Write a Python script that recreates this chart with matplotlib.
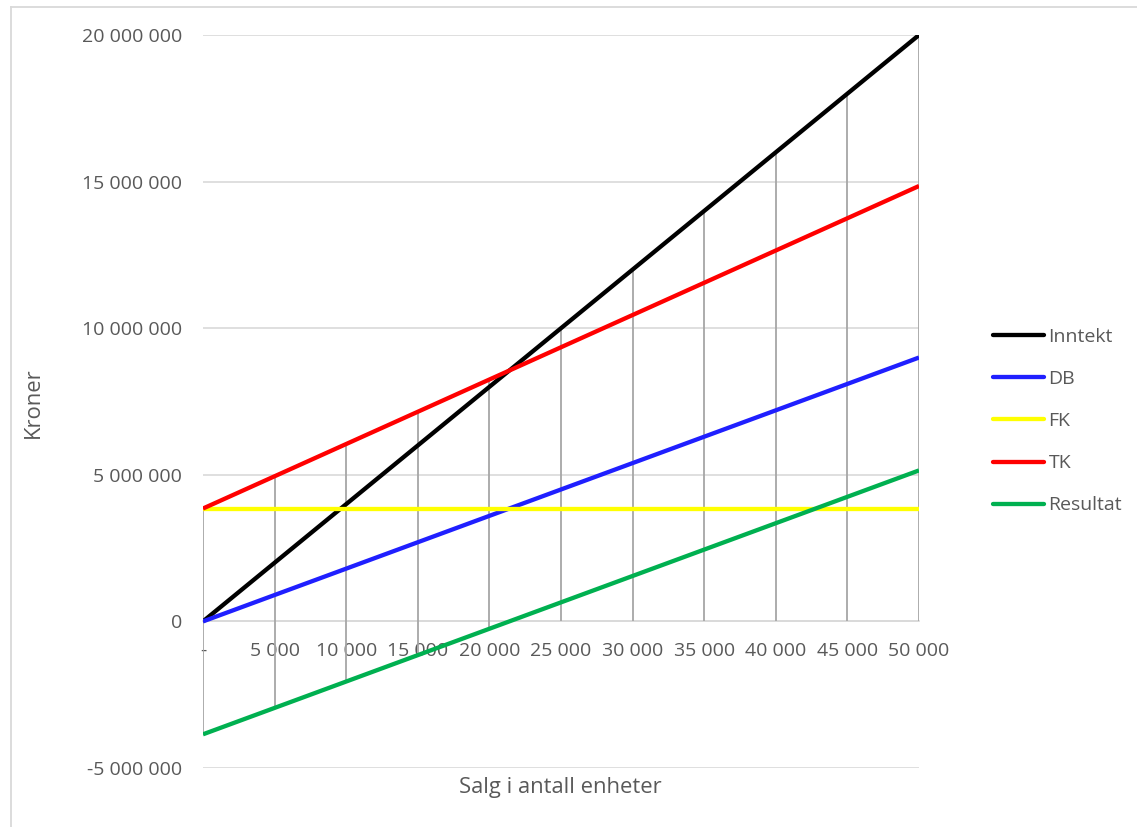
import matplotlib
matplotlib.use("Agg")
import matplotlib.pyplot as plt
from matplotlib.lines import Line2D
from matplotlib.ticker import FuncFormatter, MultipleLocator

# Break-even data (kroner) per sales volume
units = [0, 5000, 10000, 15000, 20000, 25000, 30000, 35000, 40000, 45000, 50000]
inntekt = [0, 2000000, 4000000, 6000000, 8000000, 10000000, 12000000,
           14000000, 16000000, 18000000, 20000000]
db = [0, 900000, 1800000, 2700000, 3600000, 4500000, 5400000,
      6300000, 7200000, 8100000, 9000000]
fk = [3850000] * 11
tk = [3850000, 4950000, 6050000, 7150000, 8250000, 9350000, 10450000,
      11550000, 12650000, 13750000, 14850000]
resultat = [-3850000, -2950000, -2050000, -1150000, -250000, 650000,
            1550000, 2450000, 3350000, 4250000, 5150000]

series = [("Inntekt", inntekt, "#000000"),
          ("DB", db, "#1f1fff"),
          ("FK", fk, "#ffff00"),
          ("TK", tk, "#ff0000"),
          ("Resultat", resultat, "#00b050")]

text_color = "#595959"
grid_color = "#d9d9d9"
fs = 14
title_fs = 15.8
plt.rcParams["font.family"] = ["Open Sans", "DejaVu Sans"]

fig = plt.figure(figsize=(11.37, 8.27), dpi=100)
ax = fig.add_axes([0.1785, 0.0713, 0.8083 - 0.1785, 0.9577 - 0.0713])

# Drop lines from each point to the category axis
for i, x in enumerate(units):
    vals = [s[1][i] for s in series]
    ax.vlines(x, min(0, min(vals)), max(0, max(vals)), color="#a6a6a6",
              lw=1.3, zorder=2)

for name, vals, col in series:
    ax.plot(units, vals, color=col, lw=3.1, solid_capstyle="butt", zorder=3,
            label=name)

ax.set_xlim(0, 50000)
ax.set_ylim(-5000000, 20000000)
ax.yaxis.set_major_locator(MultipleLocator(5000000))
ax.set_xticks(units)


def spaced(v, pos=None):
    v = int(round(v))
    if v == 0:
        return "0"
    s = f"{abs(v):,}".replace(",", " ")
    return ("-" if v < 0 else "") + s


ax.yaxis.set_major_formatter(FuncFormatter(spaced))
ax.set_xticklabels(["-"] + [spaced(u) for u in units[1:]])

ax.grid(axis="y", color=grid_color, lw=1.2, zorder=0)
ax.set_axisbelow(True)
for side in ["left", "right", "top"]:
    ax.spines[side].set_visible(False)
ax.spines["bottom"].set_position(("data", 0))
ax.spines["bottom"].set_color(grid_color)
ax.spines["bottom"].set_linewidth(1.2)
ax.spines["bottom"].set_zorder(1)

ax.tick_params(axis="x", length=0, pad=15, labelsize=fs, labelcolor=text_color)
ax.tick_params(axis="y", length=0, pad=15, labelsize=fs, labelcolor=text_color)

fig.text(0.029, 1 - 403 / 827, "Kroner", rotation=90, ha="center",
         va="center", fontsize=title_fs, color=text_color)
fig.text(0.493, 1 - 787 / 827, "Salg i antall enheter", ha="center",
         va="center", fontsize=title_fs, color=text_color)

handles = [Line2D([], [], color=c, lw=3.1, solid_capstyle="round")
           for _, _, c in series]
leg = fig.legend(handles, [s[0] for s in series], loc="upper left",
                 bbox_to_anchor=(993 / 1137, 1 - 328 / 827), frameon=False,
                 borderpad=0, borderaxespad=0,
                 handlelength=2.6, handletextpad=0.25, labelspacing=1.24,
                 fontsize=fs, labelcolor=text_color)

# Light frame around the chart area
fig.add_artist(Line2D([11 / 1137, 11 / 1137], [0, 1 - 7 / 827],
                      transform=fig.transFigure, color=grid_color, lw=1.3))
fig.add_artist(Line2D([11 / 1137, 1], [1 - 7 / 827, 1 - 7 / 827],
                      transform=fig.transFigure, color=grid_color, lw=1.3))

fig.savefig("out.png", dpi=100, facecolor="white")
